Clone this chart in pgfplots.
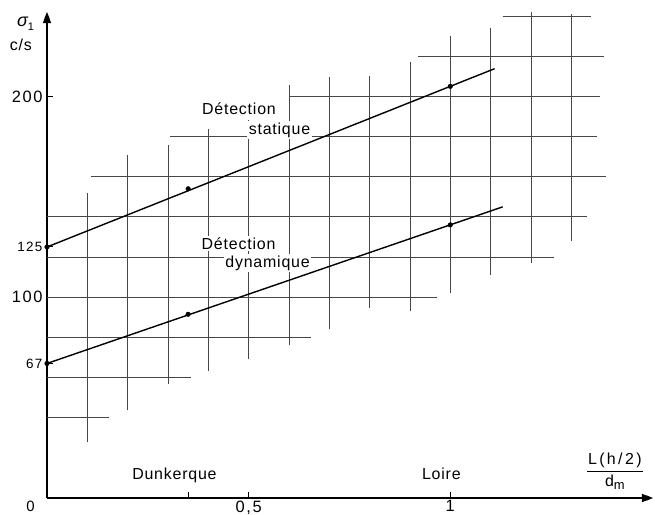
\documentclass[border=0pt]{standalone}
\usepackage{pgfplots}
\pgfplotsset{compat=1.18}
\usetikzlibrary{arrows.meta}
\usepackage{fontspec}
\setmainfont{Liberation Sans}[LetterSpace=5]
\newcommand\lab{\fontsize{16}{18}\selectfont}
\newcommand\tk{\fontsize{16.5}{18}\selectfont\addfontfeature{LetterSpace=10}}
\newcommand\tks{\fontsize{13.5}{15}\selectfont\addfontfeature{LetterSpace=10}}
\pgfplotsset{gseg/.style={black!72, line width=0.9bp, no marks, forget plot}}
\begin{document}
\begin{tikzpicture}
\begin{axis}[
  scale only axis, width=605bp, height=485bp,
  xmin=0, xmax=1.5, ymin=0, ymax=241.5,
  axis x line=bottom, axis y line=left,
  axis line style={line width=1.3bp},
  clip=false,
  tick align=inside, major tick length=6bp,
  tick style={black, line width=1bp},
  xtick={0.35,0.5,1}, xticklabels={,{\tk 0,5},{\tk 1}},
  xticklabel style={yshift=1bp},
  ytick={67,100,125,200},
  yticklabels={{\tks 67},{\tk 100},{\tks 125},{\tk 200}},
  yticklabel style={xshift=-1bp},
]
% horizontal grid segments
\addplot[gseg] coordinates {(0,40) (0.155,40)};
\addplot[gseg] coordinates {(0,60) (0.357,60)};
\addplot[gseg] coordinates {(0,80) (0.655,80)};
\addplot[gseg] coordinates {(0,100) (0.968,100)};
\addplot[gseg] coordinates {(0,120) (1.256,120)};
\addplot[gseg] coordinates {(0,140) (1.34,140)};
\addplot[gseg] coordinates {(0.11,160) (1.385,160)};
\addplot[gseg] coordinates {(0.305,180) (1.365,180)};
\addplot[gseg] coordinates {(0.6,200) (1.37,200)};
\addplot[gseg] coordinates {(0.92,220) (1.38,220)};
\addplot[gseg] coordinates {(1.13,240) (1.35,240)};
% vertical grid segments
\addplot[gseg] coordinates {(0.1,28) (0.1,152)};
\addplot[gseg] coordinates {(0.2,44) (0.2,171)};
\addplot[gseg] coordinates {(0.3,57) (0.3,176)};
\addplot[gseg] coordinates {(0.4,63) (0.4,184)};
\addplot[gseg] coordinates {(0.5,69) (0.5,188)};
\addplot[gseg] coordinates {(0.6,76) (0.6,205.5)};
\addplot[gseg] coordinates {(0.7,84) (0.7,209.5)};
\addplot[gseg] coordinates {(0.8,94.5) (0.8,210)};
\addplot[gseg] coordinates {(0.9,93) (0.9,217)};
\addplot[gseg] coordinates {(1.0,102) (1.0,230)};
\addplot[gseg] coordinates {(1.1,111) (1.1,234)};
\addplot[gseg] coordinates {(1.2,117) (1.2,242)};
\addplot[gseg] coordinates {(1.3,128) (1.3,241)};
% labels with white background
\node[anchor=base, font=\lab, fill=white, inner sep=1.5bp] at (axis cs:0.476,191.2) {Détection};
\node[anchor=base, font=\lab, fill=white, inner sep=1.5bp] at (axis cs:0.5765,181) {statique};
\node[anchor=base, font=\lab, fill=white, inner sep=1.5bp] at (axis cs:0.475,123.8) {Détection};
\node[anchor=base, font=\lab, fill=white, inner sep=1.5bp] at (axis cs:0.547,115) {dynamique};
% data lines
\addplot[black, line width=1.4bp, no marks] coordinates {(0,125) (1.11,213.8)};
\addplot[black, line width=1.4bp, no marks] coordinates {(0,67) (1.13,145)};
\addplot[only marks, mark=*, mark size=2.3bp, black] coordinates {(0,125) (0.35,154) (1,205)};
\addplot[only marks, mark=*, mark size=2.3bp, black] coordinates {(0,67) (0.35,91.5) (1,136)};
% texts
\node[anchor=base, font=\lab] at (axis cs:0.316,9.4) {Dunkerque};
\node[anchor=base, font=\lab] at (axis cs:0.978,9.4) {Loire};
\node[anchor=north east, inner sep=0] at (axis cs:0,0) [xshift=-12bp, yshift=-3bp] {\fontsize{15}{16}\selectfont 0};
\node[font=\lab\addfontfeature{LetterSpace=15}, inner sep=0] at (axis cs:1.408,12.9)
  {\setlength\arrayrulewidth{1.2bp}\setlength\tabcolsep{1bp}\begin{tabular}{c}L(h/2)\\[1bp]\hline\rule{0pt}{14bp}d\raisebox{-0.35ex}{\fontsize{13}{13}\selectfont m}\end{tabular}};
\node[font=\fontsize{18}{20}\selectfont, inner sep=0] at (axis cs:-0.053,236) {{\itshape σ}\raisebox{-0.45ex}{\fontsize{11}{11}\selectfont 1}};
\node[font=\lab, inner sep=0] at (axis cs:-0.0645,225.6) {c/s};
\coordinate (bbA) at (axis cs:-0.1165,-8.45);
\coordinate (bbB) at (axis cs:1.5076,248);
\coordinate (xend) at (axis cs:1.5,0);
\coordinate (yend) at (axis cs:0,241.5);
\end{axis}
\fill[black] (xend) ++(1bp,0) -- ++(-11bp,4.2bp) -- ++(0,-8.4bp) -- cycle;
\fill[black] (yend) ++(0,1bp) -- ++(-4.2bp,-11bp) -- ++(8.4bp,0) -- cycle;
\pgfresetboundingbox
\path (bbA) rectangle (bbB);
\end{tikzpicture}
\end{document}
